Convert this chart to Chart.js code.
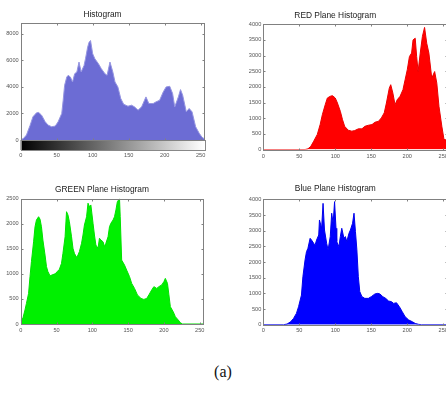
<!DOCTYPE html>
<html>
<head>
<meta charset="utf-8">
<script src="https://cdn.jsdelivr.net/npm/chart.js@4/dist/chart.umd.min.js"></script>
<style>
  html, body { margin: 0; padding: 0; background: #fff; overflow: hidden; width: 446px; height: 394px; }
  canvas { position: absolute; }
  #caption { position: absolute; left: 0; width: 446px; top: 363px; text-align: center;
             font-family: "Liberation Serif", "DejaVu Serif", serif; font-size: 16px; color: #111; }
</style>
</head>
<body>
<canvas id="c1" width="223" height="165" style="left:0;top:0"></canvas>
<canvas id="c2" width="240" height="165" style="left:223px;top:0"></canvas>
<canvas id="c3" width="223" height="175" style="left:0;top:165px"></canvas>
<canvas id="c4" width="240" height="175" style="left:223px;top:165px"></canvas>
<div id="caption">(a)</div>
<script>
// tick values
var xTicks = [0, 50, 100, 150, 200, 250];
var histTicks = [0, 2000, 4000, 6000, 8000];
var redTicks = [0, 500, 1000, 1500, 2000, 2500, 3000, 3500, 4000];
var greenTicks = [0, 500, 1000, 1500, 2000, 2500];
var blueTicks = [0, 500, 1000, 1500, 2000, 2500, 3000, 3500, 4000];

// grey level histogram
var histX = [0,4,8,13,17,22,25,29,34,38,43,48,52,57,59,61,64,66,69,72,75,78,81,84,88,90,93,95,97,100,103,108,112,117,120,124,128,131,135,139,143,149,154,158,163,168,174,178,184,188,193,198,202,207,211,214,219,222,225,230,234,238,243,248,252,255];
var histY = [0,125,375,1100,1750,2050,2075,1875,1375,1125,1000,1050,1375,2000,3000,4125,4750,4875,4750,4375,5000,5125,5875,5125,5625,6125,7000,7375,7500,6500,6125,5750,5375,5000,4875,5875,5125,4375,4000,3125,2700,2550,2625,2500,2250,2500,3250,2750,2750,2875,3000,3625,4000,4050,3500,2500,3250,3800,3375,2125,2375,2125,1000,500,200,100];

// red plane
var redX = [0,58,62,66,70,75,79,82,86,89,93,96,100,103,107,110,113,118,123,127,132,137,141,146,151,155,160,164,168,171,175,177,180,183,186,190,194,197,200,203,206,208,211,213,215,218,221,224,227,230,234,238,241,244,248,251,255];
var redY = [0,0,20,100,265,480,800,1110,1430,1645,1700,1720,1645,1485,1220,955,740,615,585,605,660,660,740,775,795,870,900,1010,1170,1485,1960,2070,1800,1430,1590,1700,1910,2230,2550,2970,3080,3500,3555,2970,2490,3080,3610,3900,3395,3080,2280,2490,2120,1380,740,320,300];

// green plane
var greenX = [0,3,6,8,11,13,15,18,20,22,25,27,29,31,34,36,38,41,44,48,51,54,57,59,62,64,66,68,71,73,75,78,80,82,85,87,89,92,94,96,98,101,103,105,108,110,112,115,117,119,122,124,126,129,131,133,135,138,139,141,145,148,152,155,159,163,168,172,176,179,183,186,190,193,197,200,202,205,207,209,213,216,220,223,226,256];
var greenY = [80,113,280,410,610,945,1245,1640,1940,2075,2140,2090,1940,1675,1375,1145,1045,960,980,1000,1045,1090,1210,1410,1740,2240,2175,2040,1740,1510,1410,1330,1375,1445,1610,1775,1975,2140,2410,2340,2375,2010,1775,1575,1510,1710,1675,1640,1545,1610,1740,1940,2010,2075,2140,2275,2440,2500,2140,1275,1175,1075,945,810,710,580,510,490,510,580,680,745,710,745,780,845,910,810,580,345,245,145,80,25,0,0];

// blue plane
var blueX = [0,28,33,38,42,46,49,53,55,58,60,62,65,67,70,72,74,77,78,81,83,85,88,90,93,95,97,99,101,102,105,107,109,112,114,116,119,121,124,126,128,130,132,134,137,141,146,150,155,159,162,166,170,174,178,181,185,189,193,197,202,207,211,216,220,256];
var blueY = [0,0,20,95,200,360,575,945,1530,2065,2330,2435,2755,2700,2595,2545,2700,2860,3340,3075,3870,3020,2595,2385,2810,3555,3235,3925,3075,2650,2490,2810,3075,2755,2810,2650,2915,3020,3235,3555,2970,2385,1530,1055,895,840,840,895,980,1000,980,895,840,755,735,680,700,575,415,255,150,95,40,10,0,0];

var tickFont = { family: '"Liberation Sans", Arial, sans-serif', size: 5.6 };
var titleFont = { family: '"Liberation Sans", Arial, sans-serif', size: 8.4, weight: 'normal', lineHeight: 1.2 };

// matlab style box with inward ticks, plus optional grey colour bar
var boxPlugin = {
  id: 'box',
  afterDatasetsDraw: function(chart, args, opts) {
    var a = chart.chartArea, ctx = chart.ctx;
    var xs = chart.scales.x, ys = chart.scales.y;
    ctx.save();
    if (opts.colorbar) {
      var x0 = xs.getPixelForValue(0), x1 = xs.getPixelForValue(255);
      var g = ctx.createLinearGradient(x0, 0, x1, 0);
      g.addColorStop(0, '#000');
      g.addColorStop(1, '#fff');
      ctx.fillStyle = g;
      ctx.fillRect(a.left, a.bottom, a.right - a.left, 10);
      ctx.strokeStyle = '#888';
      ctx.lineWidth = 1;
      ctx.strokeRect(Math.round(a.left) + 0.5, Math.round(a.bottom) + 0.5, Math.round(a.right - a.left), 10);
    }
    ctx.strokeStyle = '#808080';
    ctx.lineWidth = 1;
    var l = Math.round(a.left) + 0.5, r = Math.round(a.right) - 0.5;
    var t = Math.round(a.top) + 0.5, b = Math.round(a.bottom) + 0.5;
    ctx.strokeRect(l, t, r - l, b - t);
    ctx.beginPath();
    xs.ticks.forEach(function(tk) {
      var px = Math.round(xs.getPixelForValue(tk.value)) + 0.5;
      ctx.moveTo(px, b); ctx.lineTo(px, b - 2);
      ctx.moveTo(px, t); ctx.lineTo(px, t + 2);
    });
    ys.ticks.forEach(function(tk) {
      var py = Math.round(ys.getPixelForValue(tk.value)) + 0.5;
      ctx.moveTo(l, py); ctx.lineTo(l + 2, py);
      ctx.moveTo(r, py); ctx.lineTo(r - 2, py);
    });
    ctx.stroke();
    ctx.restore();
  }
};

function plain(v) { return String(v); }

function panel(id, title, xs, ys, fill, edge, yMax, yTicks, lay) {
  var pts = xs.map(function(x, i) { return { x: x, y: ys[i] }; });
  return new Chart(document.getElementById(id), {
    type: 'line',
    data: {
      datasets: [{
        data: pts,
        fill: 'origin',
        backgroundColor: fill,
        borderColor: edge,
        borderWidth: 1,
        pointRadius: 0,
        tension: 0
      }]
    },
    plugins: [boxPlugin],
    options: {
      responsive: false,
      animation: false,
      devicePixelRatio: 1,
      layout: { padding: { left: 0, right: lay.padRight, top: 0, bottom: 0 } },
      plugins: {
        legend: { display: false },
        tooltip: { enabled: false },
        title: {
          display: true, text: title, color: '#222', font: titleFont,
          padding: { top: lay.titleTop, bottom: lay.titleBottom }
        },
        box: { colorbar: !!lay.colorbar }
      },
      scales: {
        x: {
          type: 'linear', min: 0, max: 256,
          grid: { display: false, drawTicks: false },
          border: { display: false },
          afterBuildTicks: function(ax) { ax.ticks = xTicks.map(function(v) { return { value: v }; }); },
          afterFit: function(ax) { ax.height = lay.xHeight; },
          ticks: { font: tickFont, color: '#555', padding: lay.xPad, maxRotation: 0, autoSkip: false, callback: plain }
        },
        y: {
          min: 0, max: yMax,
          grid: { display: false, drawTicks: false },
          border: { display: false },
          afterBuildTicks: function(ax) { ax.ticks = yTicks.map(function(v) { return { value: v }; }); },
          afterFit: function(ax) { ax.width = lay.yWidth; },
          ticks: { font: tickFont, color: '#555', padding: 2, autoSkip: false, callback: plain }
        }
      }
    }
  });
}

// title box heights: top + 8.4*1.2 + bottom
panel('c1', 'Histogram', histX, histY, 'rgb(108,108,212)', 'rgb(150,150,225)', 8800, histTicks,
  { yWidth: 20.7, padRight: 18, titleTop: 10.1, titleBottom: 3.1, xHeight: 25, xPad: 12.5, colorbar: true });
panel('c2', 'RED Plane Histogram', redX, redY, 'rgb(255,0,0)', 'rgb(235,0,0)', 4000, redTicks,
  { yWidth: 40.3, padRight: 15.4, titleTop: 11.1, titleBottom: 3.1, xHeight: 15.5, xPad: 4 });
panel('c3', 'GREEN Plane Histogram', greenX, greenY, 'rgb(0,240,0)', 'rgb(0,225,0)', 2500, greenTicks,
  { yWidth: 20.7, padRight: 19, titleTop: 19.9, titleBottom: 3.7, xHeight: 16, xPad: 2.6 });
panel('c4', 'Blue Plane Histogram', blueX, blueY, 'rgb(0,0,255)', 'rgb(0,0,235)', 4000, blueTicks,
  { yWidth: 40.3, padRight: 15.4, titleTop: 18.9, titleBottom: 5.3, xHeight: 15.3, xPad: 2.5 });
</script>
</body>
</html>
